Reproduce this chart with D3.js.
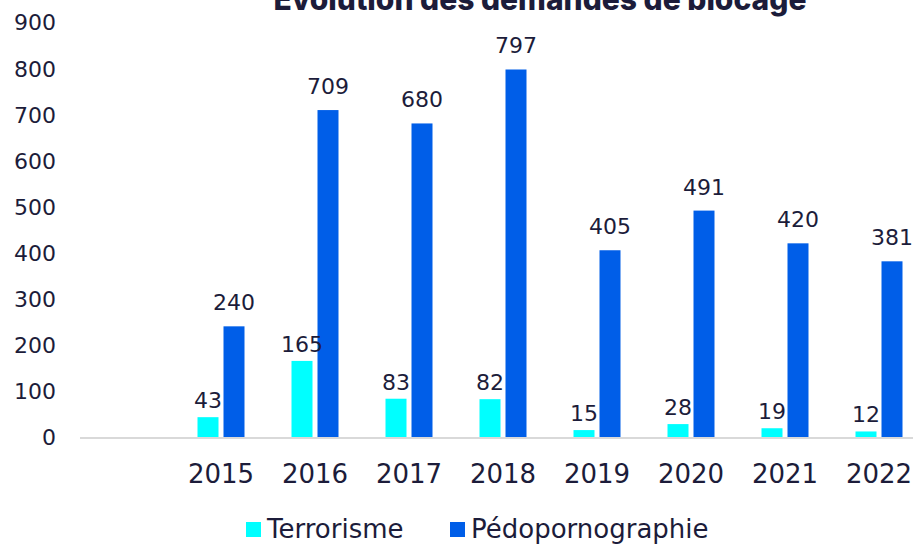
<!DOCTYPE html>
<html lang="fr">
<head>
<meta charset="utf-8" />
<title>Évolution des demandes de blocage</title>
<script src="https://cdn.jsdelivr.net/npm/d3@7"></script>
<style>
  body { margin: 0; background: #fff; }
  text { font-family: "DejaVu Sans", Verdana, sans-serif; fill: #1c1c3a; }
</style>
</head>
<body>
<script>

// Data
var years = ["", "2015", "2016", "2017", "2018", "2019", "2020", "2021", "2022"];
var terrorisme = [null, 43, 165, 83, 82, 15, 28, 19, 12];
var pedo = [null, 240, 709, 680, 797, 405, 491, 420, 381];
var yTicks = [0, 100, 200, 300, 400, 500, 600, 700, 800, 900];
var seriesNames = ["Terrorisme", "Pédopornographie"];
var colors = ["#00ffff", "#005ee8"];

var w = 913, h = 545;
var pad = {left: 80, right: -13, top: 22, bottom: 108};

var svg = d3.select("body").append("svg")
  .attr("width", w)
  .attr("height", h);

var x = d3.scaleBand()
  .domain(years)
  .range([pad.left, w - pad.right]);

var y = d3.scaleLinear()
  .domain([0, 900])
  .range([h - pad.bottom, pad.top]);

var barW = 21, gap = 5;

// title (cut off at the top like the original)
svg.append("text")
  .attr("x", 540)
  .attr("y", 10)
  .attr("text-anchor", "middle")
  .style("font-family", "Inter, 'Noto Sans', sans-serif")
  .style("font-weight", "800")
  .style("font-size", "30px")
  .text("Évolution des demandes de blocage");

// y labels
var yAxis = d3.axisLeft(y).tickValues(yTicks).tickSize(0).tickPadding(0);
var gy = svg.append("g")
  .attr("transform", "translate(56,0)")
  .call(yAxis);
gy.select(".domain").remove();
gy.selectAll("text")
  .attr("dy", "0.36em")
  .style("font-size", "22px")
  .style("fill", "#1c1c3a");

// bars
var rows = years.map(function(yr, i) { return {year: yr, t: terrorisme[i], p: pedo[i]}; })
  .filter(function(d) { return d.t !== null; });

svg.selectAll(".bar-t")
  .data(rows)
  .enter().append("rect")
  .attr("class", "bar-t")
  .attr("x", function(d) { return x(d.year) + x.bandwidth() / 2 - gap / 2 - barW; })
  .attr("y", function(d) { return y(d.t); })
  .attr("width", barW)
  .attr("height", function(d) { return y(0) - y(d.t); })
  .attr("fill", colors[0]);

svg.selectAll(".bar-p")
  .data(rows)
  .enter().append("rect")
  .attr("class", "bar-p")
  .attr("x", function(d) { return x(d.year) + x.bandwidth() / 2 + gap / 2; })
  .attr("y", function(d) { return y(d.p); })
  .attr("width", barW)
  .attr("height", function(d) { return y(0) - y(d.p); })
  .attr("fill", colors[1]);

// value labels
svg.selectAll(".lab-t")
  .data(rows)
  .enter().append("text")
  .attr("x", function(d) { return x(d.year) + x.bandwidth() / 2 - gap / 2 - barW / 2; })
  .attr("y", function(d) { return y(d.t) - 9; })
  .attr("text-anchor", "middle")
  .style("font-size", "22px")
  .text(function(d) { return d.t; });

svg.selectAll(".lab-p")
  .data(rows)
  .enter().append("text")
  .attr("x", function(d) { return x(d.year) + x.bandwidth() / 2 + gap / 2 + barW / 2; })
  .attr("y", function(d) { return y(d.p) - 16; })
  .attr("text-anchor", "middle")
  .style("font-size", "22px")
  .text(function(d) { return d.p; });

// x axis
var xAxis = d3.axisBottom(x).tickSize(0).tickPadding(0);
var gx = svg.append("g")
  .attr("transform", "translate(0," + y(0) + ")")
  .call(xAxis);
gx.select(".domain").remove();
gx.selectAll("text")
  .attr("y", 46)
  .attr("dy", 0)
  .style("font-size", "26px")
  .style("fill", "#1c1c3a");

svg.append("line")
  .attr("x1", pad.left)
  .attr("x2", w)
  .attr("y1", y(0) + 1)
  .attr("y2", y(0) + 1)
  .attr("stroke", "#d9d9d9")
  .attr("stroke-width", 2);

// legend
var legX = [246, 450];
var leg = svg.selectAll(".leg")
  .data(seriesNames)
  .enter().append("g")
  .attr("transform", function(d, i) { return "translate(" + legX[i] + ",522)"; });
leg.append("rect")
  .attr("width", 15)
  .attr("height", 15)
  .attr("fill", function(d, i) { return colors[i]; });
leg.append("text")
  .attr("x", 21)
  .attr("y", 16)
  .style("font-size", "26px")
  .text(function(d) { return d; });

</script>
</body>
</html>
